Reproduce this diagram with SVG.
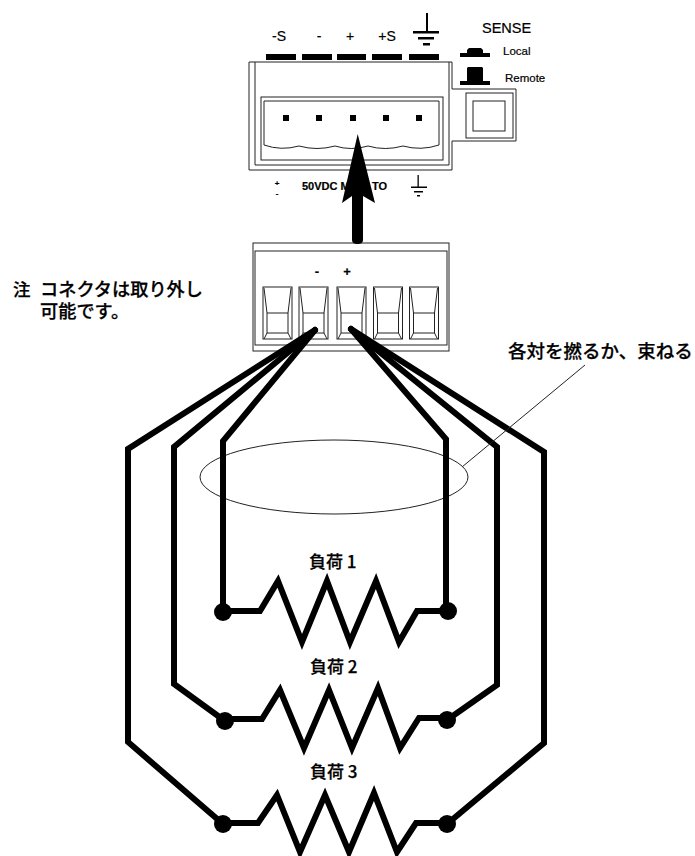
<svg xmlns="http://www.w3.org/2000/svg" width="695" height="856" viewBox="0 0 695 856">
<style>
.t{fill:none;stroke:#222;stroke-width:1}
.w{fill:none;stroke:#000;stroke-width:6;stroke-linejoin:miter;stroke-linecap:round}
.b{fill:#000;stroke:none}
.l{font-family:"Liberation Sans",Arial,sans-serif;fill:#000;stroke:#000;stroke-width:.2}
.j{font-family:"Noto Sans CJK JP",sans-serif;fill:#000;font-weight:500;stroke:#000;stroke-width:.25}
</style>
<defs>
<g id="slot">
<rect class="t" x="0" y="0" width="29" height="52"/>
<path class="t" d="M1 1L4 26V46M28 1L25 26V46M4 26H25M4 46H25M1 52L4 46M28 52L25 46"/>
</g>
</defs>
<rect width="695" height="856" fill="#fff"/>

<g id="terminal-block">
<path class="t" d="M249 62H452V89H516V141H452V170H249Z"/>
<path class="t" d="M255 62V165H449V62"/>
<rect class="t" x="466" y="93" width="47" height="45"/>
<rect class="t" x="473" y="101" width="32" height="30"/>
<rect class="t" x="261" y="97" width="182" height="63"/>
<path class="t" d="M264 145V101H439V145Q421 151 403 146Q385 151 368 146Q351 151 335 146Q317 151 299 146Q281 151 264 145Z"/>
<g class="b">
<rect x="283" y="115" width="6" height="6"/><rect x="316" y="115" width="6" height="6"/><rect x="350" y="115" width="6" height="6"/><rect x="383" y="115" width="6" height="6"/><rect x="416" y="115" width="6" height="6"/>
<rect x="266" y="54" width="30" height="6"/><rect x="302" y="54" width="30" height="6"/><rect x="337" y="54" width="29" height="6"/><rect x="372" y="54" width="30" height="6"/><rect x="409" y="54" width="30" height="6"/>
</g>
</g>

<g id="terminal-labels">
<text class="l" x="279" y="41" font-size="14" text-anchor="middle">-S</text>
<text class="l" x="319" y="41" font-size="14" text-anchor="middle">-</text>
<text class="l" x="350" y="41" font-size="14" text-anchor="middle">+</text>
<text class="l" x="387" y="41" font-size="14" text-anchor="middle">+S</text>
<g class="b">
<rect x="426" y="13" width="2" height="20"/><rect x="413" y="31" width="26" height="2.5"/><rect x="418" y="37" width="16" height="2.5"/><rect x="423" y="43" width="7" height="2.5"/>
</g>
</g>

<g id="sense">
<text class="l" x="482" y="33" font-size="14.500">SENSE</text>
<text class="l" x="503" y="55" font-size="11.500">Local</text>
<text class="l" x="505" y="82" font-size="11.500">Remote</text>
<path class="b" d="M460 53H467V50L469 48H481L483 50V53H490V57H460Z"/>
<path class="b" d="M460 81H467V68L468 67H482L483 68V81H490V85H460Z"/>
</g>

<g id="rating-labels">
<text class="l" x="277" y="186" font-size="8" font-weight="bold" text-anchor="middle">+</text>
<text class="l" x="277" y="195.500" font-size="8" font-weight="bold" text-anchor="middle">-</text>
<text class="l" x="302" y="190" font-size="11" font-weight="bold">50VDC M</text>
<text class="l" x="372" y="190" font-size="11" font-weight="bold">TO</text>
<g class="b">
<rect x="417.500" y="175" width="1.300" height="12"/><rect x="411" y="186.500" width="16" height="1.500"/><rect x="414" y="191" width="9" height="1.500"/><rect x="417" y="195" width="3" height="1.500"/>
</g>
</g>

<g id="plug">
<rect class="t" x="253" y="243" width="196" height="108"/>
<rect class="t" x="255" y="251" width="192" height="94"/>
<use href="#slot" x="263" y="287"/>
<use href="#slot" x="299" y="287"/>
<use href="#slot" x="337" y="287"/>
<use href="#slot" x="373.500" y="287"/>
<use href="#slot" x="409.500" y="287"/>
<text class="l" x="317" y="276" font-size="13" font-weight="bold" text-anchor="middle">-</text>
<text class="l" x="347" y="276" font-size="13" font-weight="bold" text-anchor="middle">+</text>
</g>

<g id="insertion-arrow">
<path class="b" d="M357.700 134L375 203L363 196V240Q363 244 357.500 244Q352 244 352 240V196L342 203Z"/>
</g>

<g id="bundle-ellipse">
<ellipse class="t" cx="334" cy="477" rx="134" ry="37"/>
</g>

<g id="connectors">
<path class="w" d="M315 330L128 449V742L223 824"/>
<path class="w" d="M315 330L174 447V684L225 721"/>
<path class="w" d="M315 330L223 441V612"/>
<path class="w" d="M351 329L446 439V611"/>
<path class="w" d="M351 329L497 447V685L447 720"/>
<path class="w" d="M351 329L544 452V743L447 824"/>
<path class="t" d="M462 467L585 365"/>
</g>

<g id="load-1">
<path class="w" stroke-linecap="butt" d="M223 611H260L278 581L302 642L327 581L350 642L376 581L399 642L417 611H448"/>
<circle class="b" cx="223" cy="612" r="9"/><circle class="b" cx="448" cy="611" r="9"/>
<text class="j" x="309" y="568" font-size="17">負荷 1</text>
</g>
<g id="load-2">
<path class="w" stroke-linecap="butt" d="M225 719H262L280 690L304 748L329 690L352 748L378 688L400 748L419 718H447"/>
<circle class="b" cx="225" cy="721" r="9"/><circle class="b" cx="447" cy="720" r="9"/>
<text class="j" x="310" y="673" font-size="17">負荷 2</text>
</g>
<g id="load-3">
<path class="w" stroke-linecap="butt" d="M223 823H258L277 795L300 852L325 795L349 852L374 793L397 852L416 823H447"/>
<circle class="b" cx="223" cy="824" r="9"/><circle class="b" cx="447" cy="824" r="9"/>
<text class="j" x="310" y="778" font-size="17">負荷 3</text>
</g>

<g id="note">
<text class="j" font-size="18.200"><tspan x="13" y="296" font-size="17.500">注</tspan><tspan x="40" y="296">コネクタは取り外し</tspan><tspan x="40" y="318">可能です。</tspan></text>
</g>
<g id="twist-label">
<text class="j" x="508" y="358" font-size="18.500">各対を撚るか、束ねる</text>
</g>
</svg>
